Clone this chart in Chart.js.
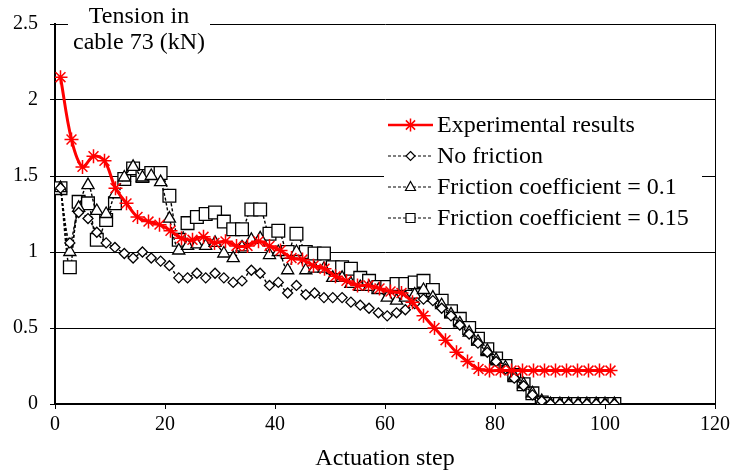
<!DOCTYPE html>
<html>
<head>
<meta charset="utf-8">
<script src="https://cdn.jsdelivr.net/npm/chart.js@4"></script>
<style>
  body { margin: 0; background: #fff; }
  #wrap { width: 734px; height: 471px; }
</style>
</head>
<body>
<div id="wrap"><canvas id="tensionChart" width="734" height="471"></canvas></div>
<script>
// experimental readings (every second actuation step)
const expSteps = [1, 3, 5, 7, 9, 11, 13, 15, 17, 19, 21, 23, 25, 27, 29, 31, 33, 35, 37, 39,
    41, 43, 45, 47, 49, 51, 53, 55, 57, 59, 61, 63, 65, 67, 69, 71, 73, 75, 77,
    79, 81, 83, 85, 87, 89, 91, 93, 95, 97, 99, 101];
const expTension = [2.15, 1.74, 1.56, 1.63, 1.60, 1.42, 1.32, 1.23, 1.20, 1.18, 1.14, 1.09, 1.08, 1.10, 1.06, 1.07, 1.04, 1.04, 1.07, 1.04,
    1.01, 0.96, 0.95, 0.91, 0.89, 0.84, 0.81, 0.78, 0.78, 0.76, 0.74, 0.73, 0.67, 0.58, 0.50, 0.42, 0.34, 0.28, 0.23,
    0.22, 0.22, 0.22, 0.22, 0.22, 0.22, 0.22, 0.22, 0.22, 0.22, 0.22, 0.22];

// simulation steps
const simSteps = [1, 2.7, 4.3, 6, 7.6, 9.3, 10.9, 12.6, 14.2, 15.9, 17.5, 19.2, 20.8, 22.5, 24.1, 25.8, 27.4, 29.1, 30.7, 32.4,
    34, 35.7, 37.3, 39, 40.6, 42.3, 43.9, 45.6, 47.2, 48.9, 50.5, 52.2, 53.8, 55.5, 57.1, 58.8, 60.4, 62.1, 63.7, 65.4,
    67, 68.7, 70.3, 72, 73.6, 75.3, 76.9, 78.6, 80.2, 81.9, 83.5, 85.2, 86.8, 88.5, 90.1, 91.8, 93.4, 95.1, 96.7, 98.4,
    100, 101.7];
const noFriction = [1.42, 1.06, 1.26, 1.22, 1.13, 1.06, 1.03, 0.99, 0.96, 1.00,
    0.96, 0.94, 0.91, 0.83, 0.83, 0.86, 0.83, 0.86, 0.83, 0.80,
    0.81, 0.88, 0.86, 0.78, 0.80, 0.73, 0.78, 0.72, 0.73, 0.70,
    0.70, 0.70, 0.67, 0.65, 0.63, 0.60, 0.58, 0.60, 0.62, 0.66,
    0.69, 0.68, 0.63, 0.58, 0.52, 0.46, 0.40, 0.34, 0.28, 0.23,
    0.17, 0.12, 0.06, 0.02, 0, 0, 0, 0, 0, 0, 0, 0];
const friction01 = [1.42, 1.00, 1.29, 1.44, 1.27, 1.25, 1.38, 1.49, 1.56, 1.49,
    1.50, 1.46, 1.22, 1.01, 1.04, 1.05, 1.04, 1.06, 0.99, 0.96,
    1.03, 1.08, 1.09, 0.98, 1.00, 0.88, 1.00, 0.88, 0.89, 0.89,
    0.83, 0.83, 0.79, 0.77, 0.77, 0.75, 0.70, 0.68, 0.70, 0.72,
    0.75, 0.70, 0.65, 0.59, 0.53, 0.47, 0.41, 0.35, 0.29, 0.24,
    0.18, 0.13, 0.07, 0.02, 0, 0, 0, 0, 0, 0, 0, 0];
const friction015 = [1.42, 0.90, 1.33, 1.32, 1.08, 1.21, 1.32, 1.48, 1.55, 1.50,
    1.52, 1.52, 1.37, 1.08, 1.19, 1.23, 1.25, 1.26, 1.20, 1.15,
    1.15, 1.28, 1.28, 1.12, 1.14, 1.00, 1.12, 1.00, 0.99, 0.99,
    0.90, 0.90, 0.89, 0.83, 0.81, 0.77, 0.77, 0.79, 0.79, 0.80,
    0.81, 0.75, 0.68, 0.61, 0.56, 0.50, 0.43, 0.36, 0.30, 0.25,
    0.19, 0.13, 0.07, 0.01, 0, 0, 0, 0, 0, 0, 0, 0];

const seriesLabels = ['Experimental results', 'No friction', 'Friction coefficient = 0.1', 'Friction coefficient = 0.15'];
const titleLines = ['Tension in', 'cable 73 (kN)'];
const xTitle = 'Actuation step';

const serif = '"Liberation Serif", "Times New Roman", serif';

function pairs(xs, ys) {
    return ys.map((y, i) => ({x: xs[i], y: y}));
}

function simDataset(label, values, style, radius) {
    return {
        label: label,
        data: pairs(simSteps, values),
        borderColor: '#000',
        borderWidth: 1.4,
        borderDash: [3, 2],
        tension: 0.35,
        pointStyle: style,
        pointRadius: radius,
        pointBackgroundColor: '#fff',
        pointBorderColor: '#000',
        pointBorderWidth: 1.3
    };
}

// small marker shapes for the legend
function legendMarker(ctx, kind, x, y) {
    ctx.save();
    ctx.setLineDash([]);
    ctx.lineWidth = 1.2;
    ctx.strokeStyle = '#000';
    ctx.fillStyle = '#fff';
    ctx.beginPath();
    if (kind === 'star') {
        ctx.strokeStyle = 'red';
        ctx.lineWidth = 1.5;
        const r = 6.5;
        for (let a = 0; a < 4; a++) {
            const ang = a * Math.PI / 4;
            ctx.moveTo(x - r * Math.sin(ang), y - r * Math.cos(ang));
            ctx.lineTo(x + r * Math.sin(ang), y + r * Math.cos(ang));
        }
        ctx.stroke();
    } else if (kind === 'rectRot') {
        ctx.moveTo(x, y - 4.5); ctx.lineTo(x + 4.5, y); ctx.lineTo(x, y + 4.5); ctx.lineTo(x - 4.5, y);
        ctx.closePath(); ctx.fill(); ctx.stroke();
    } else if (kind === 'triangle') {
        ctx.moveTo(x, y - 5.5); ctx.lineTo(x + 5, y + 3.5); ctx.lineTo(x - 5, y + 3.5);
        ctx.closePath(); ctx.fill(); ctx.stroke();
    } else {
        ctx.rect(x - 4.5, y - 4.5, 9, 9); ctx.fill(); ctx.stroke();
    }
    ctx.restore();
}

const decorations = {
    id: 'decorations',
    afterDraw(chart) {
        const ctx = chart.ctx;
        const area = chart.chartArea;
        ctx.save();
        // right frame line
        ctx.strokeStyle = '#000';
        ctx.lineWidth = 1;
        ctx.beginPath();
        ctx.moveTo(area.right + 0.5, area.top);
        ctx.lineTo(area.right + 0.5, area.bottom);
        ctx.stroke();

        // axis title placed inside the plot, top left
        ctx.fillStyle = '#fff';
        ctx.fillRect(68, 0, 142, 58);
        ctx.fillStyle = '#000';
        ctx.font = '24px ' + serif;
        ctx.textAlign = 'center';
        ctx.textBaseline = 'middle';
        ctx.fillText(titleLines[0], 139, 17);
        ctx.fillText(titleLines[1], 139, 43);

        // legend box
        ctx.fillStyle = '#fff';
        ctx.fillRect(384, 106, 318, 128);
        const kinds = ['star', 'rectRot', 'triangle', 'rect'];
        const rows = [125, 156, 187, 218];
        ctx.font = '24px ' + serif;
        ctx.textAlign = 'left';
        rows.forEach((ry, i) => {
            ctx.beginPath();
            if (i === 0) {
                ctx.strokeStyle = 'red';
                ctx.lineWidth = 2.5;
                ctx.setLineDash([]);
            } else {
                ctx.strokeStyle = '#000';
                ctx.lineWidth = 1.2;
                ctx.setLineDash([3, 2]);
            }
            ctx.moveTo(388, ry);
            ctx.lineTo(433, ry);
            ctx.stroke();
            legendMarker(ctx, kinds[i], 410.5, ry);
            ctx.fillStyle = '#000';
            ctx.fillText(seriesLabels[i], 437, ry + 1);
        });
        ctx.restore();
    }
};

function InitTensionChart() {
    const ctx = document.getElementById('tensionChart').getContext('2d');
    const datasets = [
        {
            label: seriesLabels[0],
            data: pairs(expSteps, expTension),
            borderColor: 'red',
            backgroundColor: 'red',
            borderWidth: 3,
            tension: 0.35,
            pointStyle: 'star',
            pointRadius: 7,
            pointBorderColor: 'red',
            pointBorderWidth: 1.5
        },
        simDataset(seriesLabels[1], noFriction, 'rectRot', 5),
        simDataset(seriesLabels[2], friction01, 'triangle', 7),
        simDataset(seriesLabels[3], friction015, 'rect', 9)
    ];

    new Chart(ctx, {
        type: 'line',
        data: {datasets: datasets},
        plugins: [decorations],
        options: {
            responsive: false,
            animation: false,
            devicePixelRatio: 1,
            layout: {padding: {top: 23, right: 19, left: 0, bottom: 0}},
            plugins: {
                legend: {display: false},
                tooltip: {enabled: false}
            },
            scales: {
                x: {
                    type: 'linear',
                    min: 0,
                    max: 120,
                    afterFit: (scale) => { scale.height = 67; },
                    ticks: {stepSize: 20, color: '#000', font: {family: serif, size: 20}, padding: 4},
                    grid: {drawOnChartArea: false, drawTicks: true, tickLength: 5, color: '#000'},
                    border: {color: '#000', width: 2},
                    title: {display: true, text: xTitle, color: '#000', font: {family: serif, size: 24}, padding: {top: 0, bottom: -2}}
                },
                y: {
                    min: 0,
                    max: 2.5,
                    afterFit: (scale) => { scale.width = 55; },
                    ticks: {
                        stepSize: 0.5, color: '#000', font: {family: serif, size: 20}, padding: 12,
                        callback: (v) => String(Math.round(v * 10) / 10)
                    },
                    grid: {color: '#000', lineWidth: 1, tickLength: 5},
                    border: {color: '#000', width: 2}
                }
            }
        }
    });
}

InitTensionChart();
</script>
</body>
</html>
